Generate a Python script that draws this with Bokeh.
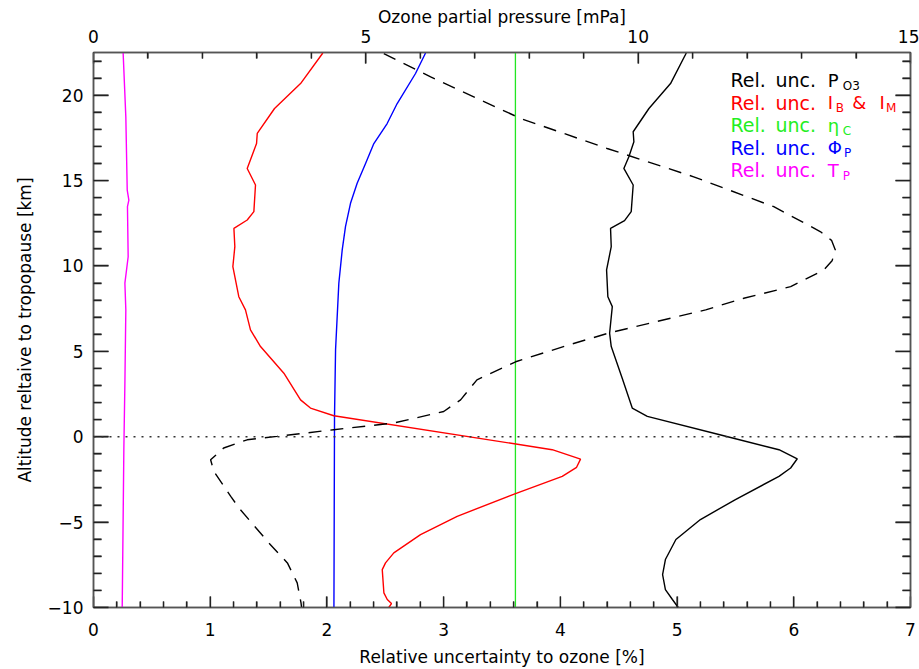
import numpy as np
from bokeh.plotting import figure
from bokeh.models import Range1d, LinearAxis, FixedTicker, Span, Label
from bokeh.embed import file_html
from bokeh.resources import INLINE

# ---------------- data ----------------
alt_p = [22.47, 20.68, 19.22, 17.86, 17.27, 16.39, 15.71, 14.74, 13.18, 12.65, 12.2, 11.13,
         9.77, 8.2, 7.62, 6.06, 5.28, 3.43, 1.68, 1.19, 0.06, -0.76, -1.29, -1.83, -2.32,
         -3.68, -4.85, -6.02, -7.19, -8.07, -8.95, -9.53, -10.0]
unc_p = [5.079, 4.944, 4.759, 4.624, 4.630, 4.587, 4.544, 4.624, 4.607, 4.550, 4.430, 4.436,
         4.396, 4.407, 4.445, 4.422, 4.436, 4.530, 4.616, 4.745, 5.40, 5.873, 6.03, 5.973, 5.873,
         5.50, 5.2, 4.99, 4.90, 4.876, 4.90, 4.96, 5.01]

alt_i = [22.47, 20.68, 19.22, 17.76, 17.17, 15.71, 14.74, 13.18, 12.69, 12.2, 11.13, 9.96,
         8.2, 7.43, 6.26, 5.28, 3.72, 2.16, 1.68, 1.23, -0.76, -1.31, -1.79, -2.32, -3.33,
         -4.66, -5.73, -6.8, -7.39, -7.78, -9.14, -9.53, -9.77, -10.0]
unc_i = [1.965, 1.774, 1.551, 1.403, 1.397, 1.317, 1.388, 1.374, 1.317, 1.203, 1.211, 1.194,
         1.245, 1.302, 1.345, 1.431, 1.631, 1.774, 1.859, 2.059, 3.93, 4.173, 4.139, 4.016, 3.616,
         3.116, 2.802, 2.573, 2.502, 2.474, 2.488, 2.517, 2.553, 2.53]

alt_eta = [-10.0, 22.5]
unc_eta = [3.615, 3.615]

alt_phi = [22.47, 21.27, 19.51, 18.34, 17.17, 16.0, 14.84, 13.67, 12.3, 10.94, 8.99, 5.09, 1.19, -10.0]
unc_phi = [2.845, 2.759, 2.602, 2.516, 2.402, 2.331, 2.259, 2.202, 2.159, 2.131, 2.102, 2.074, 2.065, 2.06]

alt_t = [22.47, 18.73, 14.44, 13.86, 13.47, 10.54, 8.99, 7.43, 3.14, -0.76, -10.0]
unc_t = [0.254, 0.277, 0.289, 0.303, 0.291, 0.297, 0.269, 0.277, 0.269, 0.26, 0.246]

alt_o3 = [22.44, 21.07, 18.64, 16.88, 15.22, 13.47, 12.0, 11.5, 10.94, 10.3, 9.77, 8.79, 8.11,
          7.43, 6.08, 5.38, 4.39, 3.33, 2.16, 1.48, 0.8, 0.41, 0.02, -0.18, -0.66, -1.35,
          -2.03, -3.49, -4.17, -6.22, -7.39, -8.56, -9.73, -10.0]
o3 = [5.33, 6.19, 7.84, 9.43, 11.02, 12.49, 13.35, 13.55, 13.62, 13.56, 13.41, 12.80, 11.94,
      11.24, 9.47, 8.73, 7.75, 7.04, 6.74, 6.43, 5.51, 4.41, 3.37, 2.82, 2.39, 2.15,
      2.21, 2.52, 2.67, 3.22, 3.56, 3.74, 3.81, 3.82]

x_ticks = [0, 1, 2, 3, 4, 5, 6, 7]
x_tick_labels = ["0", "1", "2", "3", "4", "5", "6", "7"]
top_ticks = [0, 5, 10, 15]
top_tick_labels = ["0", "5", "10", "15"]
y_ticks = [-10, -5, 0, 5, 10, 15, 20]
y_tick_labels = ["\u221210", "\u22125", "0", "5", "10", "15", "20"]

X0, X1 = 0.0, 7.0
Y0, Y1 = -10.0, 22.5
T0, T1 = 0.0, 15.0

FONT = "DejaVu Sans"
AX = "#555555"
TICK = "#222222"
FW, FH = 817, 556

p = figure(width=919, height=669, x_range=Range1d(X0, X1), y_range=Range1d(Y0, Y1),
           output_backend="svg", toolbar_location=None,
           min_border_left=93, min_border_right=9, min_border_top=52, min_border_bottom=61)
p.extra_x_ranges = {"o3": Range1d(T0, T1)}
p.grid.visible = False
p.outline_line_color = AX
p.outline_line_width = 1.5

x_minor = [float(round(v, 2)) for v in np.arange(X0, X1 + 1e-9, 0.2) if abs(v - round(v)) > 1e-6]
y_minor = [float(v) for v in range(-10, 23) if v % 5 != 0]
t_minor = [float(v) for v in range(0, 16) if v % 5 != 0]


def style(ax, major_in, minor_in):
    ax.major_tick_in = major_in
    ax.major_tick_out = 0
    ax.minor_tick_in = minor_in
    ax.minor_tick_out = 0
    ax.major_tick_line_color = TICK
    ax.minor_tick_line_color = TICK
    ax.major_tick_line_width = 1.3
    ax.minor_tick_line_width = 1.3
    ax.axis_line_color = AX
    ax.axis_line_width = 1.5
    ax.major_label_text_font = FONT
    ax.major_label_text_font_size = "17px"
    ax.major_label_text_color = "black"
    ax.axis_label_text_font = FONT
    ax.axis_label_text_font_size = "17px"
    ax.axis_label_text_font_style = "normal"
    ax.axis_label_text_color = "black"


xb = p.xaxis[0]
xb.ticker = FixedTicker(ticks=x_ticks, minor_ticks=x_minor)
xb.major_label_overrides = dict(zip(x_ticks, x_tick_labels))
xb.axis_label = "Relative uncertainty to ozone [%]"
style(xb, 11, 6)
xb.major_label_standoff = 15
xb.axis_label_standoff = 8

yl = p.yaxis[0]
yl.ticker = FixedTicker(ticks=y_ticks, minor_ticks=y_minor)
yl.major_label_overrides = dict(zip(y_ticks, y_tick_labels))
yl.axis_label = "Altitude reltaive to tropopause [km]"
style(yl, 15, 8)
yl.major_label_standoff = 10
yl.axis_label_standoff = 10

xt = LinearAxis(x_range_name="o3", axis_label="Ozone partial pressure [mPa]")
xt.ticker = FixedTicker(ticks=top_ticks, minor_ticks=t_minor)
xt.major_label_overrides = dict(zip(top_ticks, top_tick_labels))
style(xt, 11, 6)
xt.major_label_standoff = 10
xt.axis_label_standoff = 0
p.add_layout(xt, "above")

yr = LinearAxis()
yr.ticker = FixedTicker(ticks=y_ticks, minor_ticks=y_minor)
yr.major_label_overrides = {t: "" for t in y_ticks}
style(yr, 15, 8)
yr.major_label_text_font_size = "0px"
yr.major_label_standoff = 0
p.add_layout(yr, "right")

# ---------------- inward ticks as thin screen-sized rectangles ----------------
px_x = FW / (X1 - X0)
px_y = FH / (Y1 - Y0)
px_t = FW / (T1 - T0)
TW = 1.3

for tks, L in ((y_ticks, 15), (y_minor, 8)):
    n = len(tks)
    for xc in (X0 + L / 2 / px_x, X1 - L / 2 / px_x):
        p.rect(x=[xc] * n, y=[float(t) for t in tks], width=L, height=TW,
               width_units="screen", height_units="screen",
               fill_color=TICK, line_color=None)
for tks, L in ((x_ticks, 11), (x_minor, 6)):
    n = len(tks)
    p.rect(x=[float(t) for t in tks], y=[Y0 + L / 2 / px_y] * n, width=TW, height=L,
           width_units="screen", height_units="screen", fill_color=TICK, line_color=None)
for tks, L in ((top_ticks, 11), (t_minor, 6)):
    n = len(tks)
    p.rect(x=[float(t) for t in tks], y=[Y1 - L / 2 / px_y] * n, width=TW, height=L,
           width_units="screen", height_units="screen", fill_color=TICK, line_color=None,
           x_range_name="o3")

# tropopause
p.add_layout(Span(location=0, dimension="width", line_color="#333333",
                  line_dash="2 6", line_width=1.5))

LW = 1.4
p.line(unc_t, alt_t, line_color="#ff00ff", line_width=LW)
p.line(unc_phi, alt_phi, line_color="#0000ff", line_width=LW)
p.line(unc_eta, alt_eta, line_color="#22e622", line_width=1.3)
p.line(unc_i, alt_i, line_color="#ff0000", line_width=LW)
p.line(unc_p, alt_p, line_color="black", line_width=LW)
p.line(o3, alt_o3, x_range_name="o3", line_color="black", line_width=LW, line_dash="13 9")

# ---------------- legend (text annotations) ----------------
rows_y = [20.88 - i * 1.316 for i in range(5)]
colors = ["black", "#ff0000", "#22ee22", "#0000ff", "#ff00ff"]
x_rel = 5.458
x_sym = 6.29
SUB_DY = 0.32


def lab(x, y, text, color, size="18px"):
    p.add_layout(Label(x=x, y=y, text=text, text_color=color, text_font=FONT,
                       text_font_size=size, text_baseline="middle", text_align="left"))


for y, c in zip(rows_y, colors):
    lab(x_rel, y, "Rel.\u2002unc.", c, "19px")

lab(x_sym, rows_y[0], "P", colors[0])
lab(6.42, rows_y[0] - SUB_DY, "O3", colors[0], "12px")
lab(x_sym, rows_y[1], "I", colors[1])
lab(6.36, rows_y[1] - SUB_DY, "B", colors[1], "12px")
lab(6.50, rows_y[1], "&", colors[1])
lab(6.735, rows_y[1], "I", colors[1])
lab(6.79, rows_y[1] - SUB_DY, "M", colors[1], "12px")
lab(x_sym, rows_y[2], "\u03b7", colors[2])
lab(6.42, rows_y[2] - SUB_DY, "C", colors[2], "12px")
lab(x_sym, rows_y[3], "\u03a6", colors[3])
lab(6.43, rows_y[3] - SUB_DY, "P", colors[3], "12px")
lab(x_sym, rows_y[4], "T", colors[4])
lab(6.42, rows_y[4] - SUB_DY, "P", colors[4], "12px")

open("out.html", "w").write(file_html(p, INLINE))
